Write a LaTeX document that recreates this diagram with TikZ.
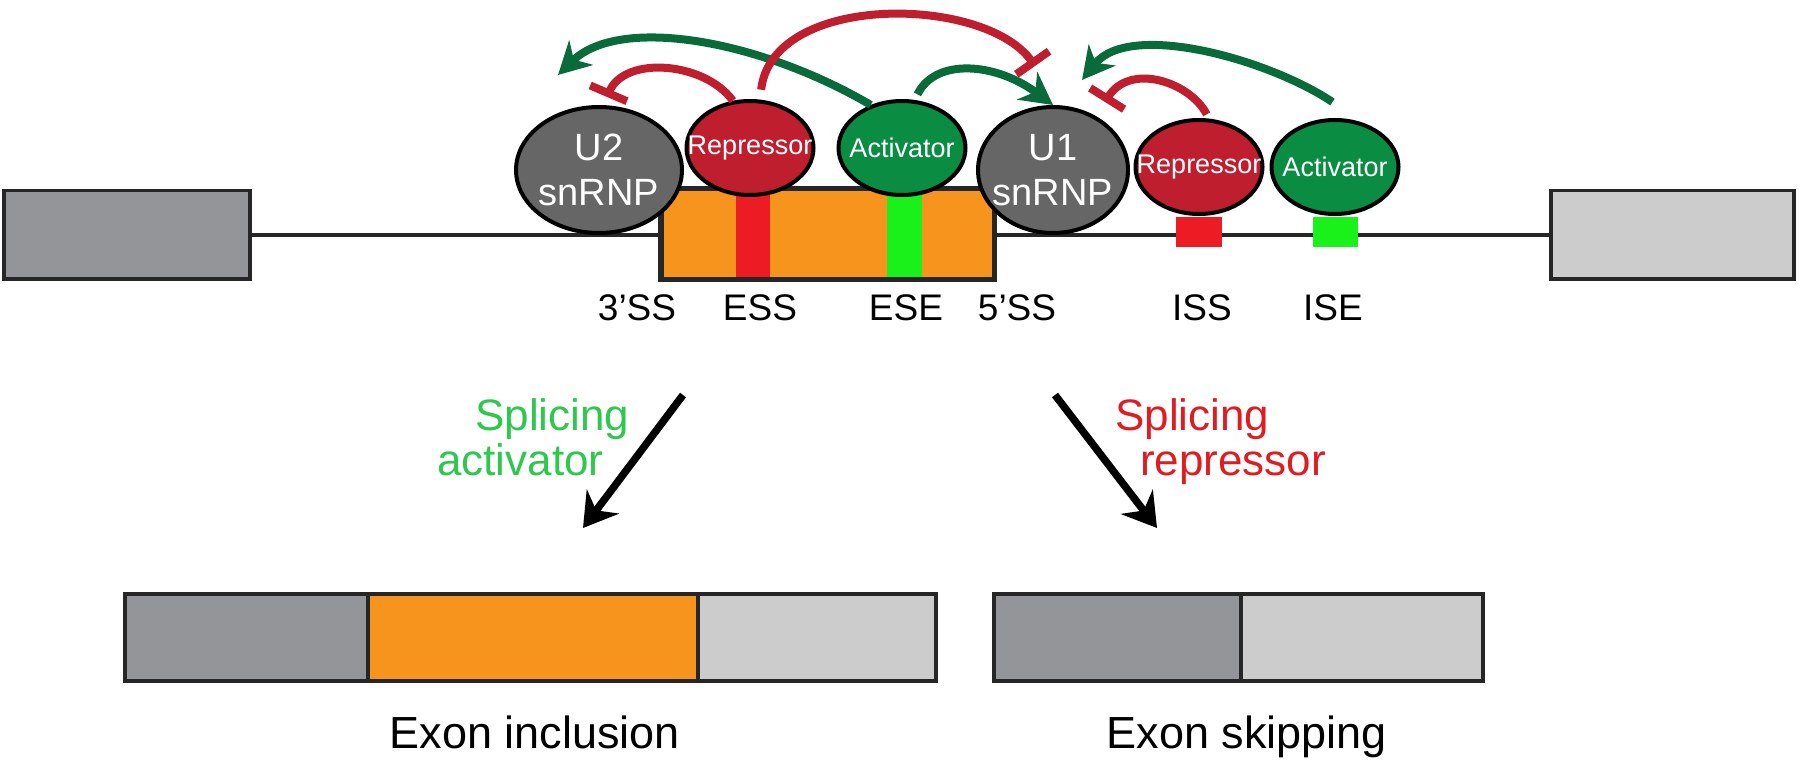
\documentclass[tikz,border=0pt]{standalone}
\usepackage{fontspec}
\setmainfont{Liberation Sans}
\usetikzlibrary{arrows.meta,shapes.geometric}
\definecolor{exdark}{HTML}{939598}
\definecolor{exlight}{HTML}{CCCCCC}
\definecolor{exorange}{HTML}{F7941E}
\definecolor{essred}{HTML}{ED1C24}
\definecolor{esegreen}{HTML}{1AF01A}
\definecolor{repfill}{HTML}{BE1E2D}
\definecolor{actfill}{HTML}{0B8C43}
\definecolor{snfill}{HTML}{666666}
\definecolor{arrred}{HTML}{BE1E2D}
\definecolor{arrgreen}{HTML}{0A6B3A}
\definecolor{txtgreen}{HTML}{2DC84D}
\definecolor{txtred}{HTML}{E11B22}
\tikzset{
  exbox/.style={rectangle, draw=black!85, line width=3.5pt, inner sep=0pt, anchor=north west},
  bar/.style={rectangle, draw=none, inner sep=0pt, anchor=north west},
  ell/.style={ellipse, draw=black, line width=4pt, inner sep=0pt},
  snrnp/.style={ell, fill=snfill},
  repell/.style={ell, fill=repfill, minimum width=127pt, minimum height=94pt},
  actell/.style={ell, fill=actfill, minimum width=127pt, minimum height=94pt},
  snt/.style={text=white, font=\fontsize{38}{45}\selectfont, align=center, inner sep=0pt},
  smt/.style={text=white, font=\fontsize{27}{31}\selectfont, inner sep=0pt},
  site/.style={font=\fontsize{37}{44}\selectfont, anchor=base, inner sep=0pt},
  bigtxt/.style={font=\fontsize{45}{54}\selectfont, anchor=base, inner sep=0pt},
  cond/.style={font=\fontsize{44}{53}\selectfont, anchor=base west, inner sep=0pt},
  actarrow/.style={draw=arrgreen, line width=8pt, -{Stealth[length=32pt,width=34pt,inset=10pt]}},
  inhib/.style={draw=arrred, line width=8pt, -{Bar[width=40pt]}},
  outarrow/.style={draw=black, line width=7.5pt, -{Stealth[length=33pt,width=40pt,inset=11pt]}}
}
\begin{document}
\begin{tikzpicture}[x=1pt,y=-1pt]
\useasboundingbox[fill=white] (0,0) rectangle (1800,765);

% top pre-mRNA
\node[exbox, fill=exdark, minimum width=246pt, minimum height=88pt] (ex1) at (2,189) {};
\node[exbox, fill=exlight, minimum width=243pt, minimum height=88pt] (ex2) at (1549,189) {};
\draw[line width=3.5pt, black!85] (ex1.east) -- (ex2.west);
\node[exbox, fill=exorange, minimum width=332pt, minimum height=89pt] (exon) at (660,188) {};
\node[bar, fill=essred, minimum width=34pt, minimum height=88pt] (ess) at (736,189) {};
\node[bar, fill=esegreen, minimum width=35pt, minimum height=88pt] (ese) at (887,189) {};
\draw[line width=3.5pt, black!85] (exon.north west) rectangle (exon.south east);
\node[bar, fill=essred, minimum width=46pt, minimum height=30pt] (iss) at (1176,217) {};
\node[bar, fill=esegreen, minimum width=45pt, minimum height=30pt] (ise) at (1313,217) {};

% proteins
\node[snrnp, minimum width=166pt, minimum height=126pt, label={[snt]center:{U2\\snRNP}}] (u2) at (599,170) {};
\node[snrnp, minimum width=150pt, minimum height=126pt, label={[snt]center:{U1\\snRNP}}] (u1) at (1053,170) {};
\node[repell, label={[smt]center:Repressor}] (rep1) at (750,148) {};
\node[actell, label={[smt]center:Activator}] (act1) at (902,148) {};
\node[repell, label={[smt]center:Repressor}] (rep2) at (1199,167) {};
\node[actell, label={[smt]center:Activator}] (act2) at (1335,167) {};

% site labels
\node[site] (l3ss) at (637,320) {3’SS};
\node[site] (less) at (760,320) {ESS};
\node[site] (lese) at (906,320) {ESE};
\node[site] (l5ss) at (1017,320) {5’SS};
\node[site] (liss) at (1202,320) {ISS};
\node[site] (lise) at (1333,320) {ISE};

% regulatory connectors
\coordinate (g1tip) at (558,75);
\coordinate (u2bar) at (607,97);
\coordinate (u1bar) at (1035,66);
\coordinate (u1bar2) at (1105,102);
\coordinate (g3tip) at (1082,80);
\draw[actarrow] (act1.126) .. controls (760,40) and (620,15) .. (g1tip);
\draw[inhib] (rep1.110) .. controls (705,62) and (625,55) .. (u2bar);
\draw[inhib] ([yshift=10pt]rep1.77) .. controls (772,-8) and (985,-5) .. (u1bar);
\draw[actarrow] ([yshift=6pt]act1.72) .. controls (935,58) and (995,62) .. (u1.north);
\draw[inhib] ([yshift=4pt]rep2.81) .. controls (1190,82) and (1130,62) .. (u1bar2);
\draw[actarrow] ([yshift=16pt]act2.93) .. controls (1270,60) and (1130,20) .. (g3tip);

% outcome arrows
\coordinate (a1s) at (683,395);
\coordinate (a1e) at (583,528);
\coordinate (a2s) at (1055,395);
\coordinate (a2e) at (1157,528);
\draw[outarrow] (a1s) -- (a1e);
\draw[outarrow] (a2s) -- (a2e);
\node[cond, text=txtgreen] (sa1) at (475,430) {Splicing};
\node[cond, text=txtgreen] (sa2) at (437,475) {activator};
\node[cond, text=txtred] (sr1) at (1115,430) {Splicing};
\node[cond, text=txtred] (sr2) at (1140,475) {repressor};

% products
\node[exbox, fill=exdark, minimum width=243pt, minimum height=87pt] (inc1) at (123,592) {};
\node[exbox, fill=exorange, minimum width=330pt, minimum height=87pt] (inc2) at (366,592) {};
\node[exbox, fill=exlight, minimum width=238pt, minimum height=87pt] (inc3) at (696,592) {};
\node[exbox, fill=exdark, minimum width=247pt, minimum height=87pt] (skp1) at (992,592) {};
\node[exbox, fill=exlight, minimum width=242pt, minimum height=87pt] (skp2) at (1239,592) {};
\node[bigtxt] (tinc) at (535,748) {Exon inclusion};
\node[bigtxt] (tskp) at (1247,748) {Exon skipping};
\end{tikzpicture}
\end{document}
